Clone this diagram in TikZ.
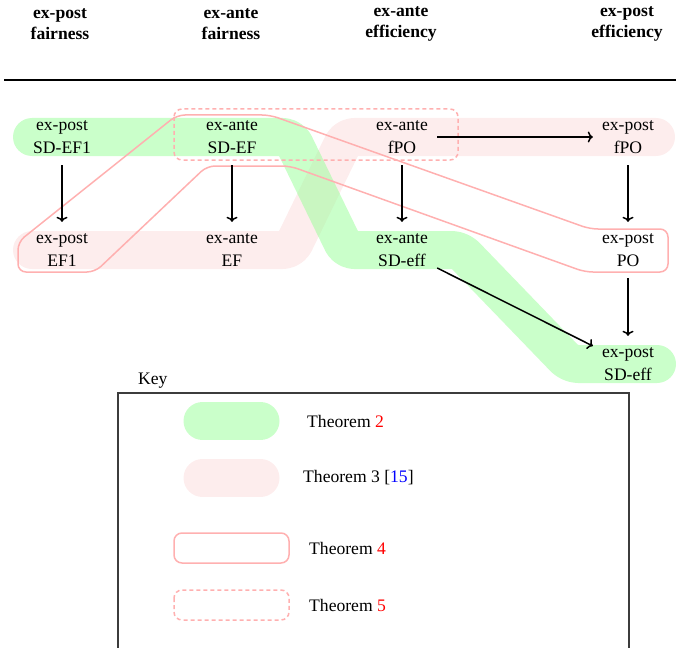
\documentclass[tikz,border=0pt]{standalone}
\usepackage{fontspec}
\setmainfont{Liberation Serif}
\usetikzlibrary{calc,arrows.meta}
\definecolor{bandgreen}{RGB}{150,255,150}
\definecolor{bandpink}{RGB}{253,237,237}
\definecolor{thmline}{RGB}{255,176,176}
\definecolor{keyframe}{RGB}{60,60,60}
\definecolor{refred}{RGB}{255,0,0}
\definecolor{refblue}{RGB}{0,0,255}
\begin{document}
\begin{tikzpicture}[x=1pt,y=-1pt,
  lab/.style={align=center, minimum width=70pt, minimum height=56pt, inner sep=0pt,
    font=\fontsize{17.6}{22.5}\selectfont},
  head/.style={align=center, inner sep=0pt, font=\fontsize{17.6}{21}\selectfont\bfseries},
  keytext/.style={anchor=west, inner sep=0pt, font=\fontsize{17.6}{22.5}\selectfont},
  band/.style={line width=38pt, line cap=round, line join=round, rounded corners=8pt},
  greenband/.style={band, draw=bandgreen, draw opacity=0.5},
  pinkband/.style={band, draw=bandpink},
  thmfour/.style={draw=thmline, line width=1.5pt, rounded corners=8pt},
  thmfive/.style={thmfour, dash pattern=on 4pt off 3pt},
  arr/.style={-{To[length=5pt,width=11pt]}, line width=1.5pt}]
\useasboundingbox (0,0) rectangle (676,647);
\clip (0,0) rectangle (676,647);

% column headings and rule
\node[head] (h1) at (60,24) {ex-post\\fairness};
\node[head] (h2) at (231,24) {ex-ante\\fairness};
\node[head] (h3) at (401,24) {ex-ante\\efficiency};
\node[head] (h4) at (627,24) {ex-post\\efficiency};
\coordinate (ruleL) at (4,80);
\coordinate (ruleR) at (676,80);
\draw[line width=2pt] (ruleL) -- (ruleR);

% Theorem 3 band
\draw[pinkband] (32,250) -- (291,250) -- (346,137) -- (656,137);
% Theorem 2 band
\draw[greenband] (32,137) -- (291,137) -- (346,250) -- (460,250) -- (570,364) -- (657,364);

% Theorem 4 region
\draw[thmfour] (18,242) -- (18,272) -- (95,272) -- (207,166) -- (290,166) -- (585,272)
  -- (668,272) -- (668,229) -- (590,229) -- (270,115) -- (177,115) -- cycle;
% Theorem 5 region
\draw[thmfive] (174,109) rectangle (458,160);

% notions
\node[lab] (pSDEFone) at (62,137) {ex-post\\SD-EF1};
\node[lab] (aSDEF) at (232,137) {ex-ante\\SD-EF};
\node[lab] (afPO) at (402,137) {ex-ante\\fPO};
\node[lab] (pfPO) at (628,137) {ex-post\\fPO};
\node[lab] (pEFone) at (62,250) {ex-post\\EF1};
\node[lab] (aEF) at (232,250) {ex-ante\\EF};
\node[lab] (aSDeff) at (402,250) {ex-ante\\SD-eff};
\node[lab] (pPO) at (628,250) {ex-post\\PO};
\node[lab] (pSDeff) at (628,364) {ex-post\\SD-eff};

% implications
\draw[arr] (pSDEFone) -- (pEFone);
\draw[arr] (aSDEF) -- (aEF);
\draw[arr] (afPO) -- (aSDeff);
\draw[arr] (pfPO) -- (pPO);
\draw[arr] (afPO) -- (pfPO);
\draw[arr] (pPO) -- (pSDeff);
\draw[arr] ($(aSDeff.east)+(0,18)$) -- ($(pSDeff.west)+(0,-18)$);

% key
\node[keytext] (keylabel) at (138,381) {Key};
\draw[keyframe, line width=1.3pt] (118,700) -- (118,393) -- (629,393) -- (629,700);
\draw[greenband] (202.5,421) -- (260.5,421);
\draw[pinkband] (202.5,478) -- (260.5,478);
\draw[thmfour] (174,533) rectangle (289,563);
\draw[thmfive] (174,590) rectangle (289,620);
\node[keytext] (k2) at (307,421) {Theorem \textcolor{refred}{2}};
\node[keytext] (k3) at (303,478) {Theorem 3 [\textcolor{refblue}{15}]};
\node[keytext] (k4) at (309,548) {Theorem \textcolor{refred}{4}};
\node[keytext] (k5) at (309,605) {Theorem \textcolor{refred}{5}};
\end{tikzpicture}
\end{document}
